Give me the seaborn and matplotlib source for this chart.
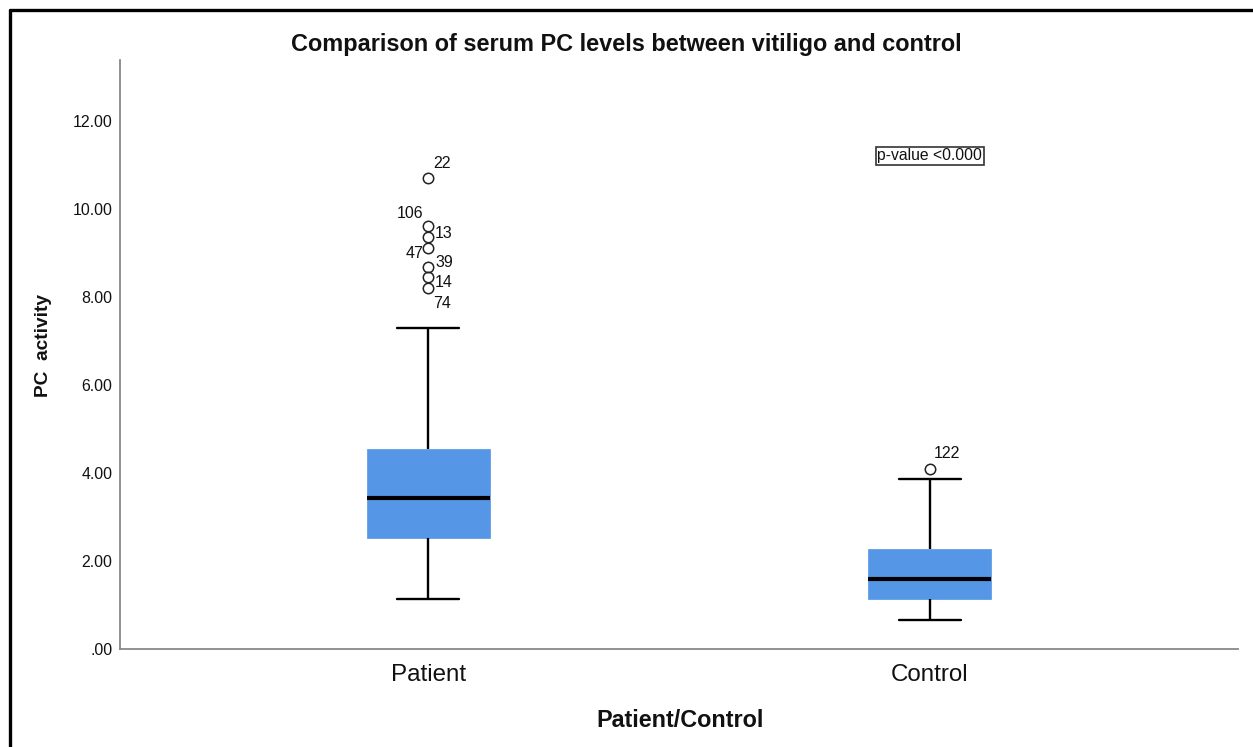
import numpy as np
import pandas as pd
import matplotlib
matplotlib.use("Agg")
import matplotlib.pyplot as plt
import seaborn as sns
from matplotlib.lines import Line2D

# values
groups = ["Patient", "Control"]
# min whisker, Q1, median, Q3, max whisker
patient_five = [1.13, 2.52, 3.43, 4.54, 7.30]
control_five = [0.66, 1.13, 1.59, 2.27, 3.86]
patient_outliers = [10.71, 9.60, 9.35, 9.12, 8.67, 8.44, 8.21]
patient_ids = ["22", "106", "13", "47", "39", "14", "74"]
control_outliers = [4.08]
control_ids = ["122"]
yticks = [0, 2, 4, 6, 8, 10, 12]
ytick_labels = [".00", "2.00", "4.00", "6.00", "8.00", "10.00", "12.00"]

# sample that reproduces the five-number summaries (numpy linear quartiles)
patient_counts = [1, 8, 8, 8, 1]
control_counts = [1, 2, 2, 2, 1]
patient_vals = list(np.repeat(patient_five, patient_counts)) + patient_outliers
control_vals = list(np.repeat(control_five, control_counts)) + control_outliers
df = pd.DataFrame({
    "group": ["Patient"] * len(patient_vals) + ["Control"] * len(control_vals),
    "value": patient_vals + control_vals})

sns.set_style("white")
plt.rcParams["font.family"] = ["Liberation Sans", "DejaVu Sans"]

fig = plt.figure(figsize=(12.53, 7.47), dpi=100)
ax = fig.add_axes([120/1253, 98/747, 1118/1253, 589/747])

sns.boxplot(data=df, x="group", y="value", order=groups, ax=ax,
            color="#5596e6", saturation=1, width=0.245, whis=1.5,
            linecolor="black", linewidth=1.7,
            boxprops=dict(edgecolor="#5596e6", linewidth=0.5),
            medianprops=dict(color="black", linewidth=3),
            flierprops=dict(marker="o", markerfacecolor="none", markeredgecolor="#222222",
                            markersize=7.5, markeredgewidth=1.1))

# case-number labels next to outliers
patient_offsets = [(14, 14), (-18, 13), (16, 4), (-14, -6), (16, 5), (16, -5), (14, -16)]
for v, lab, off in zip(patient_outliers, patient_ids, patient_offsets):
    ax.annotate(lab, (0, v), xytext=off, textcoords="offset pixels",
                ha="center", va="center", fontsize=11.5, color="#111111")
for v, lab in zip(control_outliers, control_ids):
    ax.annotate(lab, (1, v), xytext=(17, 16), textcoords="offset pixels",
                ha="center", va="center", fontsize=11.5, color="#111111")

ax.text(1, 11.2, "p-value <0.000", ha="center", va="center", fontsize=11.3, color="#111111",
        bbox=dict(boxstyle="square,pad=0.1", facecolor="white", edgecolor="#333333", linewidth=1.2))

ax.set_xlim(-0.614, 1.614)
ax.set_ylim(0, 13.38)
ax.set_yticks(yticks)
ax.set_yticklabels(ytick_labels)
ax.tick_params(axis="y", length=0, pad=5.5, labelsize=11.4, labelcolor="#111111")
ax.tick_params(axis="x", length=0, pad=11, labelsize=17.4, labelcolor="#111111")
for s in ["top", "right"]:
    ax.spines[s].set_visible(False)
for s in ["left", "bottom"]:
    ax.spines[s].set_color("#888888")
    ax.spines[s].set_linewidth(1.3)

ax.set_xlabel("Patient/Control", fontsize=16.8, fontweight="bold", color="#111111")
ax.xaxis.set_label_coords(0.501, -0.102)
ax.set_ylabel("PC  activity", fontsize=13.8, fontweight="bold", color="#111111")
ax.yaxis.set_label_coords(-0.061, 0.515)

fig.text(0.5, 1 - 44/747, "Comparison of serum PC levels between vitiligo and control",
         ha="center", va="center", fontsize=16.9, fontweight="bold", color="#111111")

# outer frame (top and left edges visible in the reference)
fig.add_artist(Line2D([10/1253, 1], [1 - 10/747, 1 - 10/747], color="black", lw=2.4, transform=fig.transFigure))
fig.add_artist(Line2D([10/1253, 10/1253], [0, 1 - 10/747], color="black", lw=2.4, transform=fig.transFigure))

fig.savefig("out.png", dpi=100)
